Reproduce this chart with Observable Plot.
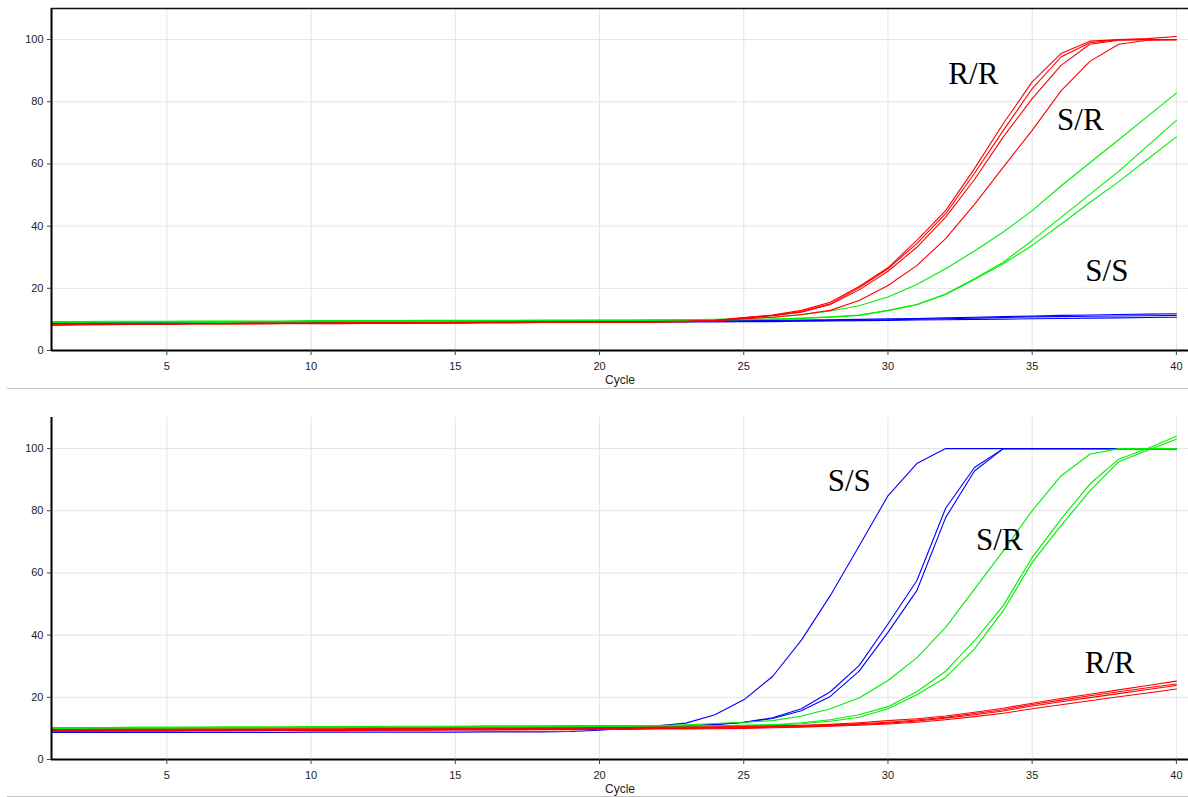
<!DOCTYPE html>
<html>
<head>
<meta charset="utf-8">
<script src="https://cdn.jsdelivr.net/npm/d3@7"></script>
<script src="https://cdn.jsdelivr.net/npm/@observablehq/plot@0.6"></script>
<style>
  html, body { margin: 0; padding: 0; background: #fff; overflow: hidden; }
  svg { display: block; }
  .sep { height: 1px; background: #c4c4c4; margin-left: 7px; }
</style>
</head>
<body>
<div id="top"></div>
<div class="sep"></div>
<div id="bottom"></div>
<div class="sep"></div>
<script>
// ---------- shared axis data ----------
const cycles = [1,2,3,4,5,6,7,8,9,10,11,12,13,14,15,16,17,18,19,20,21,22,23,24,25,26,27,28,29,30,31,32,33,34,35,36,37,38,39,40];
const xTicks = [5,10,15,20,25,30,35,40];
const yTicks = [0,20,40,60,80,100];
const xLabel = "Cycle";

// ---------- top panel series ----------
const topRed1 = [8.3,8.4,8.4,8.5,8.5,8.6,8.6,8.6,8.7,8.7,8.7,8.8,8.8,8.9,8.9,9.0,9.0,9.1,9.1,9.2,9.2,9.3,9.4,9.7,10.6,11.4,12.9,15.5,20.6,26.6,35.4,45.0,58.5,73.0,86.4,95.5,99.5,100.0,100.3,101.0];
const topRed2 = [8.5,8.5,8.6,8.6,8.7,8.7,8.7,8.8,8.8,8.8,8.9,8.9,8.9,9.0,9.0,9.1,9.1,9.1,9.2,9.2,9.3,9.3,9.4,9.6,10.5,11.3,12.5,15.0,20.2,26.3,34.4,44.0,57.0,70.8,84.2,94.4,99.0,100.0,100.0,100.0];
const topRed3 = [8.2,8.3,8.3,8.4,8.4,8.5,8.5,8.5,8.6,8.6,8.6,8.7,8.7,8.8,8.8,8.9,8.9,9.0,9.0,9.1,9.1,9.2,9.3,9.5,10.4,11.2,12.3,14.8,19.5,25.5,33.2,42.9,55.0,68.7,81.0,91.7,98.5,99.8,100.0,100.0];
const topRed4 = [8.4,8.4,8.5,8.5,8.6,8.6,8.6,8.7,8.7,8.7,8.8,8.8,8.8,8.9,8.9,9.0,9.0,9.0,9.1,9.1,9.2,9.2,9.3,9.5,10.2,10.7,11.6,12.9,16.1,20.9,27.3,36.0,47.0,59.0,70.8,83.5,93.0,98.5,99.8,100.0];

const topGreen1 = [9.3,9.3,9.4,9.4,9.4,9.5,9.5,9.5,9.5,9.6,9.6,9.6,9.6,9.7,9.7,9.7,9.7,9.8,9.8,9.8,9.8,9.9,9.9,10.0,10.2,10.7,11.5,12.7,14.4,17.2,21.2,26.3,32.0,38.1,45.0,52.9,60.4,67.8,75.3,82.8];
const topGreen2 = [9.0,9.0,9.1,9.1,9.2,9.2,9.3,9.3,9.3,9.4,9.4,9.4,9.5,9.5,9.5,9.6,9.6,9.6,9.6,9.7,9.7,9.7,9.8,9.9,10.0,10.1,10.4,10.8,11.4,12.9,14.8,18.2,23.1,28.4,35.4,42.8,50.2,57.6,65.8,74.0];
const topGreen3 = [8.0,8.2,8.4,8.6,8.8,8.9,9.0,9.1,9.1,9.2,9.2,9.3,9.3,9.3,9.4,9.4,9.5,9.5,9.5,9.6,9.6,9.7,9.7,9.8,9.9,10.0,10.3,10.7,11.3,12.8,14.7,18.0,22.8,27.9,33.8,40.6,47.6,54.3,61.5,68.7];

const topBlue1 = [9.0,9.0,9.0,9.1,9.1,9.1,9.1,9.2,9.2,9.2,9.2,9.3,9.3,9.3,9.3,9.4,9.4,9.4,9.4,9.5,9.5,9.5,9.5,9.6,9.7,9.7,9.8,9.9,10.0,10.2,10.3,10.5,10.7,10.9,11.1,11.3,11.4,11.6,11.7,11.8];
const topBlue2 = [8.8,8.8,8.9,8.9,8.9,9.0,9.0,9.0,9.0,9.1,9.1,9.1,9.1,9.2,9.2,9.2,9.2,9.3,9.3,9.3,9.3,9.3,9.4,9.4,9.5,9.5,9.6,9.7,9.8,9.9,10.1,10.2,10.4,10.6,10.8,10.9,11.0,11.1,11.2,11.3];
const topBlue3 = [8.6,8.6,8.7,8.7,8.7,8.8,8.8,8.8,8.8,8.9,8.9,8.9,8.9,9.0,9.0,9.0,9.0,9.1,9.1,9.1,9.1,9.2,9.2,9.2,9.3,9.3,9.4,9.5,9.6,9.7,9.8,9.9,10.0,10.1,10.2,10.3,10.4,10.5,10.6,10.7];

// ---------- bottom panel series ----------
const botBlue1 = [8.7,8.7,8.7,8.7,8.7,8.7,8.7,8.7,8.7,8.8,8.8,8.8,8.8,8.8,8.8,8.9,8.9,8.9,9.0,9.4,10.1,10.8,11.7,14.4,19.2,26.7,38.4,52.7,68.7,84.8,95.2,100,100,100,100,100,100,100,100,100];
const botBlue2 = [9.4,9.4,9.4,9.5,9.5,9.5,9.5,9.6,9.6,9.6,9.6,9.4,9.7,9.7,9.8,9.8,9.9,9.9,10.0,10.1,10.3,10.5,10.8,11.3,12.0,13.4,16.3,21.8,30.2,43.6,57.5,80.8,93.9,100,100,100,100,100,100,100];
const botBlue3 = [9.2,9.2,9.2,9.3,9.3,9.3,9.3,9.4,9.4,9.4,9.5,9.5,9.5,9.6,9.6,9.6,9.7,9.7,9.8,9.9,10.1,10.3,10.6,11.2,11.9,13.2,15.7,20.3,28.4,40.9,54.3,77.8,92.8,100,100,100,100,100,100,100];

const botGreen1 = [10.3,10.3,10.3,10.4,10.4,10.4,10.5,10.5,10.5,10.6,10.6,10.6,10.7,10.7,10.7,10.8,10.8,10.8,10.9,10.9,10.9,10.9,11.2,11.6,12.0,12.5,14.0,16.3,19.8,25.4,32.7,42.5,54.8,67.1,80.0,91.2,98.2,100,100,100];
const botGreen2 = [10.0,10.0,10.1,10.1,10.1,10.2,10.2,10.2,10.3,10.3,10.3,10.4,10.4,10.4,10.5,10.5,10.5,10.6,10.6,10.6,10.7,10.7,10.8,10.9,11.0,11.2,11.8,12.8,14.4,17.0,21.8,28.4,38.2,49.5,65.0,77.3,88.6,96.6,100.0,104.0];
const botGreen3 = [9.9,9.9,10.0,10.0,10.0,10.1,10.1,10.1,10.2,10.2,10.2,10.3,10.3,10.3,10.4,10.4,10.4,10.5,10.5,10.5,10.6,10.6,10.7,10.8,10.9,11.1,11.5,12.3,13.6,16.3,20.8,26.4,35.6,47.9,63.4,75.2,86.4,95.8,99.5,103.0];

const botRed1 = [9.6,9.6,9.7,9.7,9.7,9.8,9.8,9.8,9.9,9.9,9.9,10.0,10.0,10.0,10.1,10.1,10.1,10.2,10.2,10.3,10.3,10.4,10.4,10.5,10.6,10.8,11.0,11.3,11.8,12.5,13.1,14.0,15.2,16.5,18.1,19.6,21.0,22.4,23.8,25.2];
const botRed2 = [9.4,9.4,9.5,9.5,9.5,9.6,9.6,9.6,9.7,9.7,9.7,9.8,9.8,9.8,9.9,9.9,9.9,10.0,10.0,10.1,10.1,10.2,10.2,10.3,10.4,10.6,10.8,11.1,11.5,12.0,12.7,13.6,14.8,16.0,17.7,19.1,20.5,21.8,23.1,24.3];
const botRed3 = [9.2,9.2,9.3,9.3,9.3,9.4,9.4,9.4,9.5,9.5,9.5,9.6,9.6,9.6,9.7,9.7,9.7,9.8,9.8,9.9,9.9,10.0,10.0,10.1,10.2,10.4,10.6,10.9,11.3,11.7,12.4,13.3,14.4,15.6,17.2,18.6,19.9,21.2,22.5,23.8];
const botRed4 = [9.0,9.0,9.1,9.1,9.1,9.2,9.2,9.2,9.3,9.3,9.3,9.4,9.4,9.4,9.5,9.5,9.5,9.6,9.6,9.7,9.7,9.8,9.8,9.9,10.0,10.2,10.4,10.7,11.0,11.4,12.0,12.8,13.8,14.9,16.3,17.6,18.9,20.2,21.4,22.7];

// ---------- annotation labels ----------
const topLabelText = ["R/R", "S/R", "S/S"];
const topLabelX = [32.96, 36.67, 37.59];
const topLabelY = [88.8, 74.0, 25.7];
const botLabelText = ["S/S", "S/R", "R/R"];
const botLabelX = [28.66, 33.86, 37.69];
const botLabelY = [89.6, 70.7, 30.9];

// ---------- colours ----------
const genotypeColor = {blue: "#0000ff", green: "#00ee00", red: "#ff0000"};

function rowsFor(seriesList) {
  const out = [];
  seriesList.forEach((vals, i) => {
    vals.forEach((v, j) => out.push({sample: i, cycle: cycles[j], value: v}));
  });
  return out;
}
function labelRows(texts, xs, ys) {
  return texts.map((t, i) => ({text: t, x: xs[i], y: ys[i]}));
}

function panel({blue, green, red, labels, height, marginTop, marginBottom, topRule}) {
  const lineOpts = (color) => ({x: "cycle", y: "value", z: "sample", stroke: color, strokeWidth: 1.1});
  return Plot.plot({
    width: 1188,
    height,
    marginLeft: 51,
    marginRight: 0,
    marginTop,
    marginBottom,
    x: {domain: [1, 40.42], ticks: xTicks},
    y: {domain: [0, 110], ticks: yTicks},
    style: {fontFamily: "'Liberation Sans', Arial, sans-serif", fontSize: "11px", color: "#222", background: "#fff"},
    marks: [
      Plot.gridX(xTicks, {stroke: "#e4e4e4", strokeOpacity: 1}),
      Plot.gridY(yTicks.filter(d => d > 0), {stroke: "#e4e4e4", strokeOpacity: 1}),
      Plot.lineY(rowsFor(blue), lineOpts(genotypeColor.blue)),
      Plot.lineY(rowsFor(green), lineOpts(genotypeColor.green)),
      Plot.lineY(rowsFor(red), lineOpts(genotypeColor.red)),
      Plot.ruleY([0], {stroke: "#000", strokeWidth: 2}),
      Plot.ruleX([1], {stroke: "#000", strokeWidth: 2}),
      topRule ? Plot.ruleY([110], {stroke: "#111", strokeWidth: 1.5}) : null,
      Plot.axisX(xTicks, {tickSize: 5, tickPadding: 7, label: null, stroke: "#444"}),
      Plot.axisY(yTicks, {tickSize: 4, tickPadding: 4, label: null, stroke: "#444"}),
      Plot.text(labels, {x: "x", y: "y", text: "text", fontFamily: "'Liberation Serif', 'Times New Roman', serif", fontSize: 31, fill: "#000"}),
      Plot.text([xLabel], {frameAnchor: "bottom", lineAnchor: "bottom", dy: 33, fontSize: 12, fill: "#222"})
    ]
  });
}

document.getElementById("top").append(panel({
  blue: [topBlue1, topBlue2, topBlue3],
  green: [topGreen1, topGreen2, topGreen3],
  red: [topRed1, topRed2, topRed3, topRed4],
  labels: labelRows(topLabelText, topLabelX, topLabelY),
  height: 388, marginTop: 8, marginBottom: 38, topRule: true
}));

document.getElementById("bottom").append(panel({
  blue: [botBlue1, botBlue2, botBlue3],
  green: [botGreen1, botGreen2, botGreen3],
  red: [botRed1, botRed2, botRed3, botRed4],
  labels: labelRows(botLabelText, botLabelX, botLabelY),
  height: 407, marginTop: 28, marginBottom: 37, topRule: false
}));
</script>
</body>
</html>
